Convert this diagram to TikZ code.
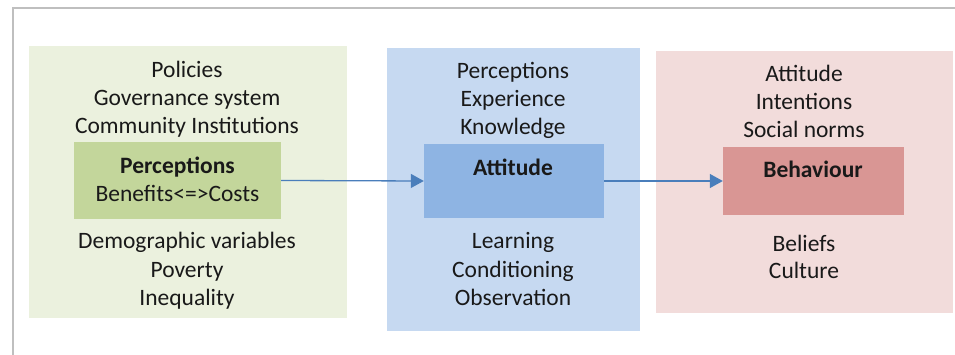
\documentclass[tikz,border=0pt]{standalone}
\usepackage{fontspec}
\setmainfont{Carlito}
\usetikzlibrary{arrows.meta}
\definecolor{gOut}{HTML}{EBF1DE}
\definecolor{gIn}{HTML}{C3D69B}
\definecolor{bOut}{HTML}{C6D9F1}
\definecolor{bIn}{HTML}{8EB4E3}
\definecolor{pOut}{HTML}{F2DCDB}
\definecolor{pIn}{HTML}{D99694}
\definecolor{arr}{HTML}{4A7EBB}
\definecolor{frame}{HTML}{BFBFBF}
\tikzset{
  box/.style={inner sep=0pt, draw=none, rectangle},
  txt/.style={align=center, inner sep=0pt, font=\fontsize{23.5}{28}\selectfont, text=black!90, anchor=base},
  btxt/.style={txt, font=\fontsize{23.5}{28}\selectfont\bfseries},
  flow/.style={draw=arr, line width=1.3pt, -{Triangle[length=13pt,width=14pt]}}
}
\begin{document}
\begin{tikzpicture}[x=1pt,y=-1pt]
\useasboundingbox (0,0) rectangle (955,355);
\draw[frame, line width=1.2pt] (13,355) -- (13,8) -- (955,8);
% outer boxes
\node[box, fill=gOut, minimum width=318pt, minimum height=272pt] (gout) at (188,182) {};
\node[box, fill=bOut, minimum width=253pt, minimum height=283pt] (bout) at (513.5,189.5) {};
\node[box, fill=pOut, minimum width=297pt, minimum height=262pt] (pout) at (804.5,182) {};
% inner boxes
\node[box, fill=gIn, minimum width=207pt, minimum height=77pt] (gin) at (177.5,180.5) {};
\node[box, fill=bIn, minimum width=180pt, minimum height=74pt] (bin) at (514,181) {};
\node[box, fill=pIn, minimum width=181pt, minimum height=68pt] (pin) at (813.5,181) {};
% texts green
\node[txt] (g1) at (187,134) {Policies\\Governance system\\Community Institutions};
\node[btxt] (g2) at (177.5,174) {Perceptions};
\node[txt] (g3) at (177.5,202) {Benefits<=>Costs};
\node[txt] (g4) at (187,305) {Demographic variables\\Poverty\\Inequality};
% texts blue
\node[txt] (b1) at (513,135) {Perceptions\\Experience\\Knowledge};
\node[btxt] (b2) at (513,176) {Attitude};
\node[txt] (b3) at (513,305) {Learning\\Conditioning\\Observation};
% texts pink
\node[txt] (p1) at (804,138) {Attitude\\Intentions\\Social norms};
\node[btxt] (p2) at (813,178) {Behaviour};
\node[txt] (p3) at (804,279) {Beliefs\\Culture};
% arrows
\draw[flow] (gin.east) -- (bin.west);
\draw[flow] (bin.east) -- (pin.west);
\end{tikzpicture}
\end{document}
